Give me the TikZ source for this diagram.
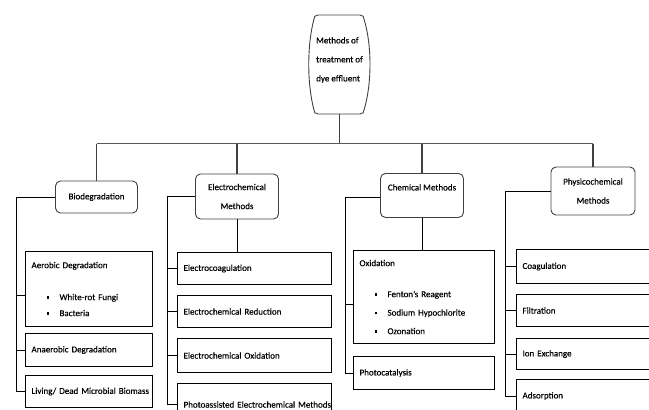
\documentclass[tikz,border=0pt]{standalone}
\usepackage{fontspec}
\setmainfont{Carlito}[FakeBold=0.35]
\newcommand\sqbul{\hspace*{15pt}\raisebox{1.3pt}{\rule{2.6pt}{2.6pt}}\hspace{10.4pt}}
\begin{document}
\begin{tikzpicture}[x=1pt,y=-1pt,
  rbox/.style={draw=black!75, rounded corners=5pt, line width=0.9pt, align=center,
    font=\fontsize{9}{19}\selectfont, inner sep=0pt},
  leaf/.style={draw=black, line width=1.1pt, align=left, anchor=north west,
    inner xsep=6pt, inner ysep=0pt, font=\fontsize{9}{16}\selectfont},
  busline/.style={draw=black!65, line width=1.8pt},
  dropline/.style={draw=black!75, line width=1.1pt},
  treeline/.style={draw=black, line width=1pt}]
\useasboundingbox (0,0) rectangle (649,410);
\clip (0,0) rectangle (649,410);

% root
\draw[black!75, line width=0.9pt]
  (318,15) -- (360,15) .. controls (363,15) and (364,17) .. (364,19)
  .. controls (372,45) and (372,84) .. (364,110)
  .. controls (364,112) and (363,114) .. (360,114) -- (318,114)
  .. controls (315,114) and (314,112) .. (314,110)
  .. controls (307,84) and (307,45) .. (314,19)
  .. controls (314,17) and (315,15) .. (318,15);
\node[font=\fontsize{9}{19}\selectfont, align=left, inner sep=0pt] (root) at (339.5,60)
  {Methods of\\treatment of\\dye effluent};
\coordinate (rootb) at (339.5,114);
\coordinate (bus) at (339.5,143.5);

% category boxes
\node[rbox, minimum width=82pt, minimum height=32pt] (bio) at (96.5,197) {Biodegradation};
\node[rbox, minimum width=83pt, minimum height=45pt] (elec) at (237,196.5) {Electrochemical\\Methods};
\node[rbox, minimum width=83pt, text height=17pt, text depth=27pt, anchor=north] (chem) at (422,173) {Chemical Methods};
\node[rbox, minimum width=84pt, minimum height=48pt] (phys) at (593,191) {Physicochemical\\Methods};

% bus
\draw[dropline] (rootb) -- (bus);
\draw[busline] (bio.north |- bus) -- (phys.north |- bus);
\draw[dropline] (bio.north |- bus) -- (bio.north);
\draw[dropline] (elec.north |- bus) -- (elec.north);
\draw[dropline] (chem.north |- bus) -- (chem.north);
\draw[dropline] (phys.north |- bus) -- (phys.north);

% Biodegradation leaves
\node[leaf, text width=115pt, minimum height=75pt] (aer) at (25,251)
  {Aerobic Degradation\\[16pt]\sqbul White-rot Fungi\\\sqbul Bacteria};
\node[leaf, text width=115pt, minimum height=33pt] (ana) at (25,333) {Anaerobic Degradation};
\node[leaf, text width=115pt, minimum height=32pt] (liv) at (25,375) {\mbox{Living/ Dead Microbial Biomass}};

% Electrochemical leaves
\node[leaf, text width=142pt, minimum height=32pt] (ec1) at (177,252) {Electrocoagulation};
\node[leaf, text width=142pt, minimum height=32pt] (ec2) at (177,295) {Electrochemical Reduction};
\node[leaf, text width=142pt, minimum height=34pt] (ec3) at (177,338) {Electrochemical Oxidation};
\node[leaf, text width=142pt, minimum height=42pt] (ec4) at (177,383) {\mbox{Photoassisted Electrochemical Methods}};

% Chemical leaves
\node[leaf, text width=129pt, minimum height=93pt, font=\fontsize{9}{18.5}\selectfont] (oxi) at (353,250)
  {Oxidation\\[12.5pt]\sqbul Fenton's Reagent\\\sqbul Sodium Hypochlorite\\\sqbul Ozonation};
\node[leaf, text width=129pt, minimum height=33pt] (pho) at (353,356) {Photocatalysis};

% Physicochemical leaves
\node[leaf, text width=132pt, minimum height=34pt] (co) at (516,249) {Coagulation};
\node[leaf, text width=132pt, minimum height=32pt] (fi) at (516,294) {Filtration};
\node[leaf, text width=132pt, minimum height=31pt] (ion) at (516,338) {Ion Exchange};
\node[leaf, text width=132pt, minimum height=33pt] (ads) at (516,379) {Adsorption};

% tree lines
\coordinate (bioL) at (16,0);
\coordinate (elecL) at (167,0);
\coordinate (chemL) at (345,0);
\coordinate (physL) at (505,0);

\draw[treeline] (bio.west) -- (bioL |- bio.west) |- (liv.west);
\draw[treeline] (bioL |- ana.west) -- (ana.west);
\draw[treeline] ([yshift=-6.5pt]aer.west -| bioL) -- ([yshift=-6.5pt]aer.west);

\draw[treeline] (elec.west) -- (elecL |- elec.west) |- (ec4.west);
\draw[treeline] (elecL |- ec1.west) -- (ec1.west);
\draw[treeline] (elecL |- ec2.west) -- (ec2.west);
\draw[treeline] (elecL |- ec3.west) -- (ec3.west);
\draw[treeline] (elec.south) -- (elec.south |- ec1.north);

\draw[treeline] ([yshift=-2pt]chem.west) -- ([yshift=-2pt]chem.west -| chemL) |- (pho.west);
\draw[treeline] ([yshift=-7.5pt]oxi.west -| chemL) -- ([yshift=-7.5pt]oxi.west);
\draw[treeline] (chem.south) -- (chem.south |- oxi.north);

\draw[treeline] (phys.west) -- (physL |- phys.west) |- (ads.west);
\draw[treeline] (physL |- co.west) -- (co.west);
\draw[treeline] (physL |- fi.west) -- (fi.west);
\draw[treeline] (physL |- ion.west) -- (ion.west);
\end{tikzpicture}
\end{document}
